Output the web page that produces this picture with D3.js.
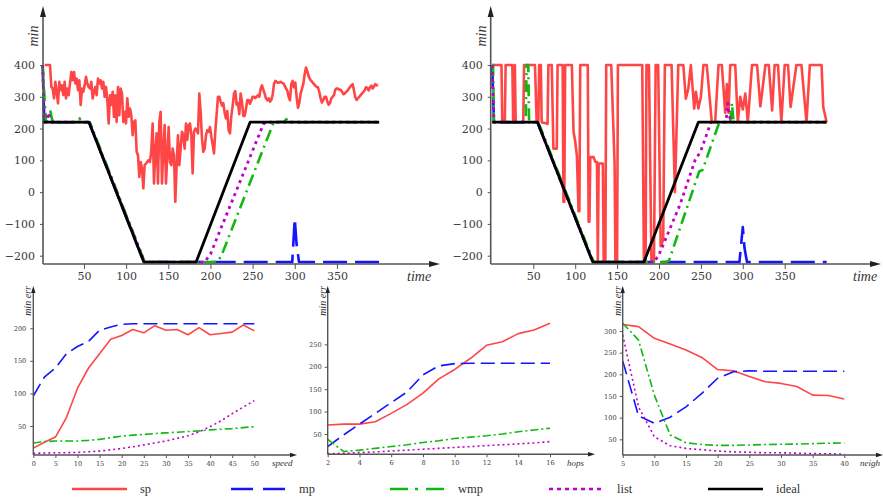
<!DOCTYPE html>
<html>
<head>
<meta charset="utf-8">
<script src="https://cdn.jsdelivr.net/npm/d3@7"></script>
<style>
body { margin: 0; background: #fff; }
svg text { font-family: 'DejaVu Serif', serif; }
.lbl { font-family: 'Liberation Serif', serif; font-style: italic; fill: #333; }
.leg { font-family: 'Liberation Serif', serif; fill: #333; }
</style>
</head>
<body>
<script>
const W = 883, H = 497

// ---- top panels: min vs time ----
const timeTicks = [50, 100, 150, 200, 250, 300, 350]
const minTicks = [-200, -100, 0, 100, 200, 300, 400]

// left panel, sp sampled on a regular time grid
const spLeftStart = 3.4, spLeftStep = 1.581
const spLeftValues = [
  400,400,400,400,400,331,326,295,347,316,
  279,347,321,336,305,347,295,326,305,342,
  378,352,378,342,357,321,352,274,326,316,
  336,363,342,331,326,347,295,316,331,305,
  357,342,352,326,347,300,331,289,216,305,
  274,316,237,305,221,331,242,326,310,221,
  253,216,295,237,263,242,179,221,226,127,
  116,48,95,74,12,85,90,95,101,95,
  132,216,27,127,185,27,221,253,27,137,
  211,27,116,205,95,85,137,116,-30,85,
  179,85,137,190,179,137,216,164,211,216,
  179,59,190,200,195,185,310,253,169,127,
  137,179,195,190,
  205,175,150,122,190,245,300,300,285,272,
  280,250,232,255,195,185,240,270,310,318,
  275,280,245,310,285,240,240,262,290,290,
  278,288,300,300,296,300,305,300,325,336,
  322,310,295,289,295,285,290,305,340,350,
  347,344,345,347,344,342,335,326,320,300,
  289,340,350,330,345,300,265,280,310,325,
  340,370,392,380,365,355,350,345,340,335,
  331,330,315,295,282,290,300,300,285,275,
  280,295,300,305,322,326,326,322,322,316,
  308,310,315,318,325,330,336,340,320,298,
  290,295,300,305,310,315,320,330,328,320,
  330,335,326,332,340,336,338
]
const mpLeft = [[1,400],[3,220],[56,220],[121,-220],[297,-220],[300,-83],[302,-160],[305,-220],[400,-220]]
const wmpLeft = [[1,400],[3,310],[5,220],[9,225],[10,258],[12,230],[14,220],[44,220],[45,232],[46,220],[57,220],[122,-220],[208,-220],[213,-200],[275,220],[288,222],[290,230],[292,220],[400,220]]
const listLeft = [[1,400],[3,220],[6,225],[8,250],[10,225],[12,220],[56,220],[122,-220],[193,-220],[200,-195],[263,215],[266,220],[400,220]]
const idealLeft = [[1,220],[56,220],[121,-220],[183,-220],[247,220],[400,220]]

// right panel
const spRight = [
  [1,400],[12,400],[13,220],[16,220],[17,400],[25,400],[26,220],[28,400],[29,220],[38,220],
  [39,400],[52,400],[54,220],[56,220],[57,400],[59,400],[60,220],[67,215],[68,400],[72,400],
  [74,137],[78,137],[79,400],[85,400],[86,-30],[87,-30],[88,400],[96,400],[98,190],[100,160],
  [102,115],[104,-60],[105,-60],[106,400],[115,400],[116,-93],[117,-93],[118,110],[122,110],[124,95],
  [126,95],[127,-220],[128,90],[133,90],[134,-220],[136,-220],[137,400],[143,400],[147,90],[148,-220],
  [150,-220],[151,400],[180,400],[182,-220],[184,-220],[185,400],[188,400],[191,-220],[194,-220],[196,400],
  [199,400],[202,-170],[205,-150],[207,400],[215,400],[219,0],[223,400],[229,400],[232,294],[235,326],
  [238,400],[242,263],[244,316],[247,263],[250,300],[253,400],[257,400],[263,220],[267,220],[271,400],
  [275,400],[279,250],[281,340],[283,250],[285,400],[291,400],[294,220],[297,300],[300,260],[303,310],
  [306,220],[311,400],[317,400],[321,270],[327,400],[331,400],[335,257],[338,400],[342,400],[346,220],
  [350,400],[354,400],[357,268],[364,400],[370,400],[376,220],[380,400],[394,400],[396,268],[400,220]
]
const mpRight = [[1,400],[3,220],[55,220],[121,-220],[296,-220],[300,-110],[302,-175],[305,-220],[400,-220]]
const wmpRight = [[1,400],[2,400],[3,220],[41,220],[42,400],[44,400],[45,220],[56,220],[122,-220],[208,-220],[212,-215],[248,65],[252,70],[272,220],[285,220],[287,280],[289,220],[400,220]]
const listRight = [[1,400],[3,220],[55,220],[121,-220],[193,-220],[199,-203],[225,-40],[243,100],[250,130],[262,220],[280,220],[282,280],[284,240],[286,220],[400,220]]
const idealRight = [[1,220],[55,220],[121,-220],[182,-220],[247,220],[400,220]]

// ---- bottom panels: min err ----
const speedX = [0,2.5,5,7.5,10,12.5,15,17.5,20,22.5,25,27.5,30,32.5,35,37.5,40,42.5,45,47.5,50]
const spSpeed = [16,25,33,63,108,139,161,183,189,198,193,204,197,198,190,201,190,192,194,205,196]
const mpSpeed = [96,125,139,161,172,180,197,202,206,207,207,207,207,207,207,207,207,207,207,207,207]
const wmpSpeed = [24,26,27,27,27,28,29.5,32,34.5,36,37,38.5,39.5,40.5,41.5,42.5,44,45,46,47.5,49]
const listSpeed = [8,8.5,9,9,9.5,10.5,11.5,13.5,15.5,18,21,24,27,31,35,41,49,58,69,79,89]
const speedTicks = [0,5,10,15,20,25,30,35,40,45,50]
const speedYTicks = [50,100,150,200]

const hopsX = [2,3,4,5,6,7,8,9,10,11,12,13,14,15,16]
const spHops = [70,72,72,77.5,96,116,141,173,194,219,248,256,274,282,297]
const mpHops = [22,48,72,96,120,144,182,202,207,208,208,208,208,208,208]
const wmpHops = [38,11,14,18,22,26,31,35,40,43,46,50,55,59,63]
const listHops = [6,7,8.5,10,12,14,16,18,20,22,24,26,28,30,33]
const hopsTicks = [2,4,6,8,10,12,14,16]
const hopsYTicks = [50,100,150,200,250]

const neighX = [5,7.5,10,12.5,15,17.5,20,22.5,25,27.5,30,32.5,35,37.5,40]
const spNeigh = [315,310,283,270,256,239,211,208,195,183,179,172,152,151,143]
const mpNeigh = [231,104,87,101,125,156,191,206,208,207,207,207,207,207,207]
const wmpNeigh = [318,279,152,60,42,38,36,36,37,38,38.5,39,40,41,41.5]
const listNeigh = [291,125,56,35,29,26,23,21,20,19,19,18,17,16.5,16]
const neighTicks = [5,10,15,20,25,30,35,40]
const neighYTicks = [50,100,150,200,250,300]

const seriesNames = ['sp', 'mp', 'wmp', 'list', 'ideal']
const colors = { sp: '#ff4646', mp: '#1414ff', wmp: '#12b812', list: '#c000c8', ideal: '#000' }

const svg = d3.select('body').append('svg')
    .attr('width', W)
    .attr('height', H)

const axisColor = '#555'

function arrowUp(g, x, y, l, w) {
    g.append('path').attr('d', `M${x},${y} L${x - w},${y + l} L${x + w},${y + l} Z`).attr('fill', '#222')
}
function arrowRight(g, x, y, l, w) {
    g.append('path').attr('d', `M${x},${y} L${x - l},${y - w} L${x - l},${y + w} Z`).attr('fill', '#222')
}

function drawLine(g, data, x, y, name, width, dashes) {
    g.append('path')
        .datum(data)
        .attr('fill', 'none')
        .attr('stroke', colors[name])
        .attr('stroke-width', width)
        .attr('stroke-dasharray', dashes[name])
        .attr('stroke-linejoin', 'round')
        .attr('d', d3.line().x(d => x(d[0])).y(d => y(d[1])))
}

// top panels
const topDashes = { sp: null, mp: '24,8', wmp: '12,5,2,5', list: '3,4', ideal: null }

function topPanel(cfg) {
    const x = d3.scaleLinear().domain([0, 400]).range(cfg.xr)
    const y = d3.scaleLinear().domain([-200, 400]).range([255.7, 65])
    const g = svg.append('g')

    const series = cfg.series
    drawLine(g, series.sp, x, y, 'sp', 2.6, topDashes)
    drawLine(g, series.mp, x, y, 'mp', 2.6, topDashes)
    drawLine(g, series.wmp, x, y, 'wmp', 2.6, topDashes)
    drawLine(g, series.list, x, y, 'list', 2.8, topDashes)
    drawLine(g, series.ideal, x, y, 'ideal', 2.8, topDashes)

    const ya = g.append('g')
        .attr('transform', `translate(${cfg.ax},0)`)
        .call(d3.axisLeft(y).tickValues(minTicks).tickSize(3).tickPadding(5))
    ya.select('.domain').remove()
    ya.selectAll('line').attr('stroke', axisColor)
    ya.selectAll('text').attr('font-size', 11).attr('font-family', 'DejaVu Serif').attr('fill', '#3a3a3a')

    const xa = g.append('g')
        .attr('transform', `translate(0,${cfg.ay})`)
        .call(d3.axisBottom(x).tickValues(timeTicks).tickSize(5).tickPadding(3))
    xa.select('.domain').remove()
    xa.selectAll('line').attr('stroke', axisColor)
    xa.selectAll('text').attr('font-size', 11).attr('font-family', 'DejaVu Serif').attr('fill', '#3a3a3a')

    g.append('line').attr('x1', cfg.ax).attr('x2', cfg.ax).attr('y1', cfg.ay).attr('y2', 14)
        .attr('stroke', axisColor).attr('stroke-width', 1.6)
    g.append('line').attr('x1', cfg.ax).attr('x2', cfg.xEnd - 8).attr('y1', cfg.ay).attr('y2', cfg.ay)
        .attr('stroke', axisColor).attr('stroke-width', 1.6)
    arrowUp(g, cfg.ax, 6, 11, 3)
    arrowRight(g, cfg.xEnd, cfg.ay, 11, 3)

    g.append('text').attr('class', 'lbl').attr('x', cfg.timeX).attr('y', 281)
        .attr('font-size', 14).text('time')
    g.append('text').attr('class', 'lbl')
        .attr('transform', `translate(${cfg.minX},36) rotate(-90)`)
        .attr('text-anchor', 'middle').attr('font-size', 14).text('min')
}

const spLeft = spLeftValues.map((v, i) => [spLeftStart + i * spLeftStep, v])

topPanel({
    ax: 43, ay: 264, xr: [41.8, 379.1], xEnd: 440, timeX: 407, minX: 38,
    series: { sp: spLeft, mp: mpLeft, wmp: wmpLeft, list: listLeft, ideal: idealLeft }
})
topPanel({
    ax: 490.7, ay: 264, xr: [491.4, 826.6], xEnd: 881, timeX: 853, minX: 486,
    series: { sp: spRight, mp: mpRight, wmp: wmpRight, list: listRight, ideal: idealRight }
})

// bottom panels
const botDashes = { sp: null, mp: '14,6', wmp: '8,3,2,3', list: '2,3', ideal: null }

function bottomPanel(cfg) {
    const x = d3.scaleLinear().domain(cfg.xDomain).range(cfg.xRange)
    const y = d3.scaleLinear().domain(cfg.yDomain).range([cfg.ay, 287])
    const g = svg.append('g')

    const names = ['sp', 'mp', 'wmp', 'list']
    names.forEach(n => {
        drawLine(g, cfg.xs.map((v, i) => [v, cfg.data[n][i]]), x, y, n, 1.6, botDashes)
    })

    const ya = g.append('g')
        .attr('transform', `translate(${cfg.ax},0)`)
        .call(d3.axisLeft(y).tickValues(cfg.yTicks).tickSize(3).tickPadding(cfg.yPad))
    ya.select('.domain').remove()
    ya.selectAll('line').attr('stroke', axisColor)
    ya.selectAll('text').attr('font-size', 6.6).attr('font-family', 'DejaVu Serif').attr('fill', '#3a3a3a')

    const xa = g.append('g')
        .attr('transform', `translate(0,${cfg.ay})`)
        .call(d3.axisBottom(x).tickValues(cfg.xTicks).tickSize(3).tickPadding(3))
    xa.select('.domain').remove()
    xa.selectAll('line').attr('stroke', axisColor)
    xa.selectAll('text').attr('font-size', 6.6).attr('font-family', 'DejaVu Serif').attr('fill', '#3a3a3a')

    g.append('line').attr('x1', cfg.ax).attr('x2', cfg.ax).attr('y1', cfg.ay).attr('y2', 292)
        .attr('stroke', axisColor).attr('stroke-width', 1.4)
    g.append('line').attr('x1', cfg.ax).attr('x2', cfg.xEnd - 5).attr('y1', cfg.ay).attr('y2', cfg.ay)
        .attr('stroke', axisColor).attr('stroke-width', 1.4)
    arrowUp(g, cfg.ax, 286, 7, 2.2)
    arrowRight(g, cfg.xEnd, cfg.ay, 7, 2.2)

    g.append('text').attr('class', 'lbl').attr('x', cfg.labelX).attr('y', 466)
        .attr('font-size', 9).text(cfg.label)
    g.append('text').attr('class', 'lbl')
        .attr('transform', `translate(${cfg.ax - 2},301) rotate(-90)`)
        .attr('text-anchor', 'middle').attr('font-size', 10).text('min err')
}

bottomPanel({
    xDomain: [0, 50], xRange: [33.3, 254.3], yDomain: [5.5, 263.3], ax: 33.3, ay: 455, xEnd: 297,
    xs: speedX, data: { sp: spSpeed, mp: mpSpeed, wmp: wmpSpeed, list: listSpeed },
    xTicks: speedTicks, yTicks: speedYTicks, yPad: 4, label: 'speed', labelX: 272
})
bottomPanel({
    xDomain: [2, 16], xRange: [327.7, 550], yDomain: [4.7, 378], ax: 327.7, ay: 454.3, xEnd: 595,
    xs: hopsX, data: { sp: spHops, mp: mpHops, wmp: wmpHops, list: listHops },
    xTicks: hopsTicks, yTicks: hopsYTicks, yPad: 3, label: 'hops', labelX: 567
})
bottomPanel({
    xDomain: [5, 40], xRange: [622.7, 844.3], yDomain: [13.8, 401.5], ax: 622.7, ay: 455, xEnd: 883,
    xs: neighX, data: { sp: spNeigh, mp: mpNeigh, wmp: wmpNeigh, list: listNeigh },
    xTicks: neighTicks, yTicks: neighYTicks, yPad: 3, label: 'neigh', labelX: 860
})

// legend
const legDashes = { sp: null, mp: '22,10', wmp: '18,7,3,8', list: '4,4', ideal: null }
const legend = svg.append('g').attr('transform', 'translate(0,489)')
seriesNames.forEach((n, i) => {
    const x0 = 72 + i * 159
    legend.append('line')
        .attr('x1', x0).attr('x2', x0 + 55).attr('y1', 0).attr('y2', 0)
        .attr('stroke', colors[n]).attr('stroke-width', 2.4)
        .attr('stroke-dasharray', legDashes[n])
    legend.append('text').attr('class', 'leg')
        .attr('x', x0 + 68).attr('y', 4)
        .attr('font-size', 12.5).text(n)
})
</script>
</body>
</html>
